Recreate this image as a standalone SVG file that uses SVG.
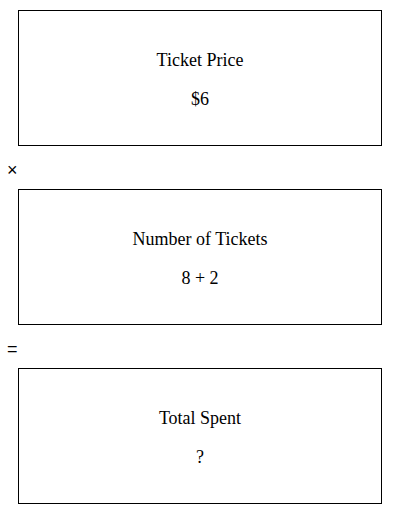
<svg xmlns="http://www.w3.org/2000/svg" width="400" height="514" viewBox="0 0 400 514">
<style>
.box{fill:#fff;stroke:#000;stroke-width:1}
.t{font-family:"Liberation Serif",serif;font-size:18px;text-anchor:middle;fill:#000}
.op{font-family:"Liberation Sans","DejaVu Sans",sans-serif;font-size:18px;fill:#000}
</style>
<rect width="400" height="514" fill="#fff"/>
<g id="price">
<rect class="box" x="18.5" y="10.5" width="363" height="135"/>
<text class="t" x="200" y="65.5">Ticket Price</text>
<text class="t" x="200" y="104.5">$6</text>
</g>
<g id="tickets">
<rect class="box" x="18.5" y="189.5" width="363" height="135"/>
<text class="t" x="200" y="244.5">Number of Tickets</text>
<text class="t" x="200" y="283.5">8 + 2</text>
</g>
<g id="total">
<rect class="box" x="18.5" y="368.5" width="363" height="135"/>
<text class="t" x="200" y="423.5">Total Spent</text>
<text class="t" x="200" y="462.5">?</text>
</g>
<g id="connectors">
<text class="op" x="7" y="176">×</text>
<text class="op" x="7" y="355">=</text>
</g>
</svg>
